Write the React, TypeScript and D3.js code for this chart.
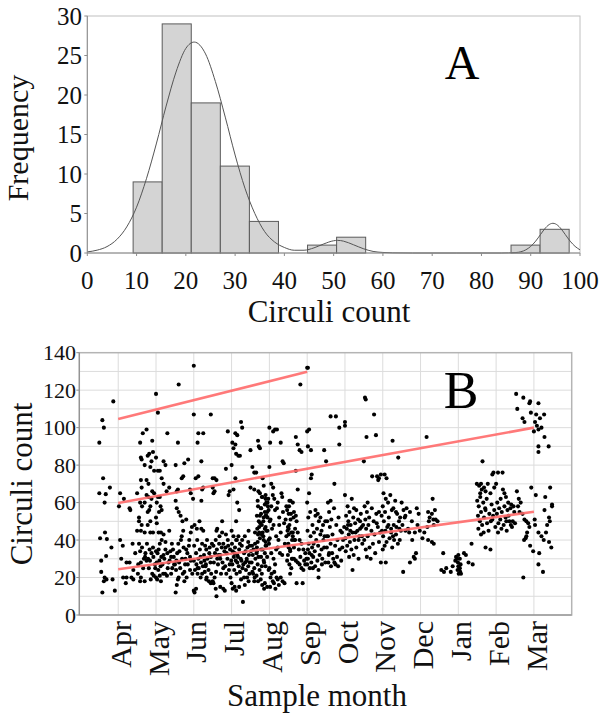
import React from "react";
import * as d3 from "d3";

// ---------- Panel A data ----------
const histStart = 9.3;
const binWidth = 5.9;
const binCounts = [9, 29, 19, 11, 4, 0, 1, 2, 0, 0, 0, 0, 0, 1, 3];
const xTicksA = [0, 10, 20, 30, 40, 50, 60, 70, 80, 90, 100];
const yTicksA = [0, 5, 10, 15, 20, 25, 30];
const curveX = [0, 2, 4, 6, 8, 10, 12, 14, 16, 18, 20, 21.7, 24, 26, 28, 30, 32, 34, 36, 38, 40, 42, 44, 46, 48, 50, 50.8, 52, 54, 56, 58, 60, 62, 66, 75, 84, 87, 88, 89, 90, 91, 92, 93, 94, 94.5, 95, 96, 97, 98, 99, 100];
const curveY = [0.14, 0.36, 0.81, 1.72, 3.3, 5.8, 9.4, 13.8, 18.6, 22.9, 25.9, 26.7, 25.2, 21.7, 17.2, 12.4, 8.2, 5.0, 2.7, 1.4, 0.7, 0.35, 0.35, 0.65, 1.15, 1.55, 1.6, 1.5, 1.05, 0.55, 0.2, 0.07, 0.02, 0, 0, 0, 0.06, 0.16, 0.4, 0.84, 1.5, 2.35, 3.18, 3.69, 3.76, 3.69, 3.18, 2.35, 1.5, 0.84, 0.4];

// ---------- Panel B data ----------
const months = ["Apr", "May", "Jun", "Jul", "Aug", "Sep", "Oct", "Nov", "Dec", "Jan", "Feb", "Mar"];
const yTicksB = [0, 20, 40, 60, 80, 100, 120, 140];
const trendX0 = [0, 0, 0];
const trendY0 = [104.6, 59.8, 24.4];
const trendX1 = [5, 11, 11];
const trendY1 = [129.8, 100, 55.1];

type P = [number, number];
const preApr: P[] = [[-0.5,92],[-0.42,104],[-0.38,100],[-0.13,114],[-0.4,73],[-0.22,68],[-0.5,65],[-0.33,64.5],[-0.36,60],[-0.48,41],[-0.35,44],[-0.3,40.5],[-0.18,36],[-0.45,29],[-0.32,31.5],[-0.45,23],[-0.36,20],[-0.31,19],[-0.38,18],[-0.42,12],[-0.15,19],[-0.09,13]];
const aprPts: P[] = [[0.05,65],[0.15,62],[0.02,58],[0.3,57],[0.32,56],[0.05,40],[0.12,37],[0.08,30],[0.22,28],[0.13,20],[0.22,20],[0.2,17],[0.35,20],[0.3,28],[0.4,24],[0.45,33],[0.38,38],[0.4,19],
[0.5,65],[0.55,52],[0.5,45],[0.6,84],[0.62,83],[0.58,92],[0.65,97],[0.75,99],[0.6,72],[0.62,68],[0.58,60],[0.63,58],[0.55,50],[0.62,48],[0.6,45],[0.7,44],[0.55,38],[0.63,36],[0.58,34],[0.68,30],[0.6,28],[0.53,27],[0.52,22],[0.6,20],[0.58,18],[0.66,25],[0.75,29],[0.71,31],[0.72,33],[0.8,63],[0.75,64],[0.85,58],[0.82,56],[0.7,60],[0.78,55],[0.88,62],[0.9,66],[0.85,50],[0.95,65],[0.92,44],[0.85,44],[0.78,48],[0.7,80],[0.78,85],[0.82,86],[0.85,79],[0.9,93],[0.92,87],[0.88,82],[0.8,70],[0.75,72],[0.95,77],[0.76,38],[0.88,33],[0.79,30],[0.93,31],[0.84,29],[0.97,27],[0.81,25],[0.9,22],[0.94,21],[0.86,19],[0.7,18],[0.83,35],[0.92,36],[0.98,25]];
const mayPts: P[] = [[1.0,118],[1.05,108],[1.02,60],[1.05,63],[1.1,63],[1.12,58],[1.08,55],[1.15,56],[1.0,52],[1.02,49],[1.07,44],[1.13,44],[1.2,43],[1.05,77],[1.1,77],[1.15,73],[1.2,70],[1.25,80],[1.3,97],[1.2,82],[1.0,84],[1.28,66],[1.35,68],[1.07,35],[1.0,34],[1.14,31],[1.04,33],[1.22,30],[1.09,29],[1.17,27],[1.25,35],[1.3,33],[1.02,28],[1.12,26],[1.06,24],[1.19,22],[1.0,20],[1.1,21],[1.24,22],[1.29,21],[1.31,25],[1.36,29],[1.4,31],[1.45,35],[1.2,32],[1.33,28],[1.38,34],[1.43,25],[1.48,27],[1.1,38],[1.15,40],[1.25,39],[1.35,45],[1.42,38],[1.47,31],[1.4,22],[1.03,19],[1.13,18],
[1.52,80],[1.55,66],[1.58,67],[1.6,123],[1.58,92],[1.52,61],[1.55,57],[1.6,55],[1.68,73],[1.72,74],[1.75,81],[1.65,53],[1.7,50],[1.8,51],[1.66,40],[1.59,38],[1.73,36],[1.56,33],[1.69,30],[1.61,28],[1.77,27],[1.64,25],[1.53,24],[1.71,22],[1.6,20],[1.58,19],[1.55,16],[1.52,12],[1.83,33],[1.78,30],[1.92,29],[1.84,27],[1.9,31],[1.8,35],[1.87,37],[1.9,24],[1.96,22],[1.81,20],[1.75,23],[1.88,40],[1.92,44],[1.95,47],[1.85,83],[1.9,67],[1.92,65],[1.98,62],[1.75,18],[1.72,45],[1.68,42],[1.62,34],[1.5,27],[1.54,29]];
const junPts: P[] = [[2.0,133],[2.0,107],[2.12,97],[2.25,97],[2.1,92],[2.2,82],[2.12,74],[2.05,73],[2.22,67],[2.25,68],[2.2,61],[2.15,50],[2.02,48],[2.08,46],[2.2,46],[2.25,45],
[2.09,40],[2.22,38],[2.01,37],[2.16,35],[2.06,33],[2.27,32],[2.12,30],[2.0,29],[2.19,28],[2.07,27],[2.24,26],[2.13,25],[2.03,24],[2.29,23],[2.1,22],[2.18,20],[2.0,13],[2.02,12],[2.06,14],[2.33,35],[2.41,33],[2.36,30],[2.44,28],[2.31,26],[2.39,24],[2.46,22],[2.34,20],[2.45,31],[2.28,29],[2.32,27],[2.18,31],[2.48,38],[2.42,36],[2.35,40],[2.3,37],[2.4,18],[2.45,17],[2.33,19],[2.1,25],[2.22,22],
[2.45,107],[2.5,73],[2.55,73],[2.6,72],[2.5,68],[2.55,66],[2.52,65],[2.85,78],[2.9,98],[2.92,64],[2.95,66],[2.75,50],[2.62,46],[2.6,45],
[2.58,40],[2.67,38],[2.52,37],[2.74,36],[2.61,35],[2.81,34],[2.56,33],[2.7,32],[2.89,30],[2.53,28],[2.64,27],[2.78,25],[2.59,23],[2.72,22],[2.55,20],[2.5,18],[2.52,17],[2.58,14],[2.6,10],[2.7,30],[2.78,38],[2.84,36],[2.91,37],[2.96,35],[2.87,33],[2.76,28],[2.83,26],[2.93,24],[2.86,22],[2.97,20],[2.95,27],[2.99,29],[2.7,15],[2.78,14],[2.82,13],[2.65,32],[2.68,42],[2.85,43],[2.9,40],[2.75,44],[2.62,30]];
const julPts: P[] = [[3.25,103],[3.28,100],[3.1,97],[3.15,96],[3.02,92],[3.1,91],[3.05,89],[3.12,86],[3.18,85],[3.22,85],[3.0,80],[3.1,73],[3.05,67],[3.15,60],[3.2,56],[3.12,50],[3.0,45],[3.05,42],
[3.14,40],[3.01,38],[3.27,37],[3.09,36],[3.2,35],[3.03,34],[3.33,33],[3.15,32],[3.06,31],[3.24,30],[3.11,29],[3.36,28],[3.02,27],[3.19,26],[3.29,25],[3.07,24],[3.22,23],[3.13,22],[3.33,20],[3.0,17],[3.08,15],[3.03,14],[3.12,13],[3.3,7],[3.42,36],[3.37,34],[3.46,32],[3.4,30],[3.48,28],[3.44,26],[3.38,24],[3.47,22],[3.41,20],[3.45,18],[3.35,16],[3.22,38],[3.28,40],[3.35,42],[3.45,45],[3.08,33],[3.17,31],[3.26,29],[3.31,27],[3.4,29],[3.12,40],[3.18,42],[3.48,37],[3.44,39],[3.25,19],[3.2,15],[3.15,28],
[3.7,93],[3.72,90],[3.75,89],[3.5,88],[3.55,79],[3.6,76],[3.65,76],[3.82,73],[3.85,69],[3.5,68],[3.6,67],[3.75,65],[3.8,63],[3.9,62],[3.95,60],[3.7,58],[3.78,57],[3.88,55],[3.92,53],[3.85,52],[3.72,50],[3.8,48],[3.9,47],[3.95,45],[3.82,44],[3.7,43],[3.75,41],[3.85,40],[3.9,39],
[3.62,38],[3.54,37],[3.67,36],[3.58,35],[3.51,34],[3.66,33],[3.56,32],[3.63,30],[3.53,28],[3.69,27],[3.6,25],[3.74,24],[3.57,22],[3.66,21],[3.61,20],[3.77,19],[3.7,18],[3.88,17],[3.81,16],[3.94,15],[3.86,14],[3.98,24],[3.9,26],[3.85,29],[3.78,31],[3.82,35],[3.88,33],[3.92,37],[3.98,40],[3.95,52],[3.98,56],[3.9,64],[3.96,58],[3.75,53],[3.68,46],[3.62,44],[3.55,23],[3.8,22],[3.6,18]];
const augPts: P[] = [[4.0,100],[4.02,92],[4.1,98],[4.15,99],[4.2,99],[4.3,92],[4.35,82],[4.38,81],[4.0,79],[4.05,70],[4.1,68],
[3.71,66],[4.09,64],[3.82,63],[4.34,63],[3.97,62],[3.69,61],[4.22,60],[3.88,59],[4.45,58],[3.78,57],[4.15,56],[3.94,55],[4.57,54],[3.67,53],[4.26,52],[4.03,51],[3.84,50],[4.39,49],[4.11,48],[3.73,47],[4.51,46],[3.92,45],[4.3,44],[3.8,43],[4.18,42],[4.01,41],[4.66,40],[3.69,39],[4.41,38],[3.9,37],[4.22,36],[3.78,35],[4.55,34],[4.05,33],[4.34,32],[3.71,31],[4.11,30],[4.47,29],[3.86,28],
[4.2,57],[3.9,53],[4.43,51],[3.76,49],[4.07,46],[4.62,44],[3.84,42],[4.24,40],[3.99,38],[4.51,36],[3.67,34],[4.28,33],[3.94,31],[4.6,30],[4.15,27],[3.8,26],[4.36,55],[4.05,58],[4.53,61],[3.88,46],[4.26,48],[3.73,44],[4.45,42],[4.01,50],[4.18,35],[4.64,52],[3.92,60],[4.32,65],[4.13,62],[3.78,54],[4.49,47],
[4.0,25],[4.13,23],[4.06,22],[4.19,20],[4.09,18],[4.25,16],[4.02,15],[4.16,14],[4.12,17],[4.22,19],[4.3,20],[4.35,18],[4.4,17],[4.03,20],
[4.48,45],[4.53,48],[4.56,51],[4.47,56],[4.52,58],[4.56,61],[4.5,38],[4.55,35],[4.49,32],[4.53,27],[4.58,25],[4.55,22],[4.6,30],[4.6,40],[4.58,44],[4.51,54],[4.51,43],
[4.82,123],[4.7,95],[4.75,91],[4.8,88],[4.85,87],[4.7,77],[4.75,67],[4.62,60],[4.65,55],[4.7,53],[4.72,50],[4.68,46],[4.75,44],[4.8,40],[4.85,38],[4.9,35],[4.95,33],[4.65,30],[4.7,29],[4.75,28],[4.8,27],[4.85,25],[4.9,24],[4.72,17],[4.88,17],[4.65,36],[4.78,35],[4.82,31],[4.92,29],[4.98,30],[4.95,27],[4.68,40],[4.62,42]];
const sepPts: P[] = [[5.0,132],[5.02,132],[5.05,99],[5.0,98],[5.02,90],[5.1,88],[5.12,75],[5.1,73],[5.05,65],[5.0,60],
[5.08,55],[5.22,53],[5.03,52],[5.31,50],[5.14,48],[5.26,46],[5.01,45],[5.18,44],[5.35,43],[5.09,42],[5.24,40],[5.04,38],[5.29,37],[5.13,36],[5.38,35],[5.2,34],[5.06,33],[5.33,32],[5.16,31],[5.02,30],[5.27,29],[5.11,28],[5.39,27],[5.21,26],[5.07,25],[5.3,24],[5.3,20],[5.43,40],[5.46,42],[5.38,45],[5.42,48],[5.48,50],[5.45,36],[5.4,30],[5.48,28],[5.22,56],[5.28,54],[5.35,52],[5.17,38],[5.12,32],[5.02,35],[5.15,25],[5.0,27],
[5.85,100],[5.85,91],[5.45,88],[5.5,82],[5.72,70],[5.62,61],[5.55,60],
[5.71,57],[5.58,55],[5.83,52],[5.64,51],[5.53,50],[5.77,48],[5.6,47],[5.88,45],[5.67,43],[5.55,42],[5.8,40],[5.62,38],[5.74,37],[5.52,36],[5.86,35],[5.66,33],[5.57,32],[5.79,31],[5.69,30],[5.9,29],[5.56,28],[5.75,27],[5.63,26],[5.62,106],[5.76,106],[5.93,36],[5.95,40],[5.92,44],[5.98,47],[5.52,42],[5.58,33],[5.82,26],[5.72,28]];
const octPts: P[] = [[6.0,103],[6.0,101],[6.0,64],[6.18,62],[6.07,58],[6.3,56],[6.12,55],[6.42,54],[6.03,53],[6.22,52],[6.35,51],[6.09,50],[6.27,49],[6.15,48],[6.44,47],[6.05,46],[6.33,45],[6.2,44],[6.1,43],[6.38,42],[6.01,41],[6.25,40],[6.13,39],[6.46,38],[6.06,37],[6.3,36],[6.17,35],[6.02,34],[6.23,32],[6.11,31],[6.36,30],[6.2,24],[6.48,48],[6.4,46],[6.14,45],[6.28,44],[6.45,42],[6.08,48],[6.36,40],[6.24,57],[6.4,50],
[6.53,116],[6.55,115],[6.77,107],[6.57,95],[6.82,96],[6.5,82],[6.72,74],[6.85,74],[6.9,73],[6.88,72],[6.95,75],
[6.6,60],[6.52,58],[6.71,57],[6.58,55],[6.83,54],[6.64,52],[6.54,51],[6.76,50],[6.62,48],[6.87,47],[6.56,46],[6.7,45],[6.93,44],[6.6,42],[6.51,40],[6.74,38],[6.65,36],[6.55,35],[6.8,33],[6.58,31],[6.68,30],[6.9,55],[6.97,53],[6.84,49],[6.98,45],[6.78,43],[6.9,39],[6.95,28]];
const novPts: P[] = [[7.26,93],[7.41,84],[7.05,75],[7.1,73],[7.02,65],[7.2,64],[7.08,62],[7.33,61],[7.14,60],[7.0,58],[7.24,56],[7.06,55],[7.38,54],[7.16,52],[7.03,50],[7.29,48],[7.12,47],[7.44,46],[7.07,45],[7.22,44],[7.35,43],[7.01,42],[7.18,41],[7.3,40],[7.1,39],[7.4,38],[7.05,37],[7.25,36],[7.0,35],[7.08,28],[7.35,55],[7.46,52],[7.43,50],[7.27,42],[7.48,45],[7.45,40],[7.15,48],[7.22,46],[7.28,57],[7.36,47],
[7.5,60],[7.63,57],[7.55,56],[7.72,55],[7.58,52],[7.77,50],[7.52,48],[7.67,46],[7.6,45],[7.7,44],[7.78,40],[7.54,23],[7.85,44],[7.88,33],[7.82,31],[7.85,30],[7.72,28],[7.6,53],[7.9,57],[7.95,54],[7.92,48],[7.98,45]];
const decPts: P[] = [[8.16,95],[8.32,62],[8.38,56],[8.2,55],[8.3,54],[8.24,52],[8.34,51],[8.22,50],[8.35,48],[8.18,47],[8.1,44],[8.05,41],[8.2,40],[8.3,39],[8.35,38],[8.4,51],[8.45,50]];
const janPts: P[] = [[8.6,33],[8.55,24],[8.62,23],[8.68,25],[8.92,29],[8.97,30],[8.94,31],[9.0,32],[9.04,30],[8.99,28],[9.06,27],[9.0,26],[9.04,25],[8.98,24],[9.05,23],[9.01,22],[9.07,22],[9.15,33],[9.2,32],[9.27,28],[9.35,38],[9.38,27],[8.85,26],[8.8,23]];
const febPts: P[] = [[9.64,82],[9.49,70],[9.55,69],[9.6,70],[9.68,68],[9.72,66],[9.78,70],[9.85,65],[9.93,76],[10.05,76],[10.17,76],[9.9,75],
[9.58,63],[9.75,62],[9.5,61],[9.66,60],[9.88,59],[9.54,58],[9.71,57],[9.95,56],[9.6,55],[9.82,54],[9.52,53],[9.68,52],[9.9,51],[9.57,50],[9.76,49],[9.63,48],[9.98,47],[9.53,46],[9.8,45],[9.67,44],[9.72,56],[9.86,50],[9.6,43],[9.72,36],[9.85,35],[9.92,53],
[10.12,62],[10.03,60],[10.22,58],[10.08,57],[10.3,56],[10.15,55],[10.02,54],[10.25,52],[10.11,51],[10.35,50],[10.06,49],[10.2,48],[10.42,47],[10.14,46],[10.28,45],[10.05,44],[10.18,67],[10.22,65],[10.26,63],[10.32,60],[10.4,59],[10.46,58],[10.38,57],[10.48,55],[10.33,53],[10.44,50],[10.5,49],[10.39,48],[10.27,50],[9.95,68],[10.0,70],[9.58,65],[9.62,67]];
const marPts: P[] = [[10.53,118],[10.72,116],[10.88,113],[10.9,114],[11.12,113],[10.56,110],[10.92,108],[10.7,105],[10.75,103],[11.06,107],[11.16,105],[11.27,107],[11.03,103],[11.08,101],[11.0,98],[11.12,99],[11.2,100],[11.28,95],[11.39,90],[11.12,90],[11.12,87],[10.93,68],[11.43,68],[11.05,64],[11.3,63],[11.28,56],[11.4,52],[11.48,59],[11.48,58],[11.02,51],[11.03,48],[10.74,40],[10.78,41],[10.9,37],[10.98,34],[11.12,44],[11.2,42],[11.26,40],[11.4,39],[11.46,36],[11.14,33],[11.12,27],[11.24,23],[10.72,20],[10.55,66],[10.6,62],[10.65,60],[10.58,58],[10.62,55],[10.7,54],[10.75,51],[10.8,50],[10.85,49],[10.88,47],[10.82,44],[10.8,42],[11.35,48],[11.42,50],[11.32,44]];

const allPoints: P[] = [...preApr, ...aprPts, ...mayPts, ...junPts, ...julPts, ...augPts, ...sepPts, ...octPts, ...novPts, ...decPts, ...janPts, ...febPts, ...marPts];

const FONT = "Liberation Serif, DejaVu Serif, serif";
const T: React.CSSProperties = { fontFamily: FONT };

export default function App() {
  // Panel A scales
  const xA = d3.scaleLinear().domain([0, 100]).range([87.3, 580]);
  const yA = d3.scaleLinear().domain([0, 30]).range([253, 16]);
  const curvePts = curveX.map((x, i) => [x, curveY[i]] as [number, number]);
  const curvePath = d3.line<[number, number]>().x(d => xA(d[0])).y(d => yA(d[1])).curve(d3.curveMonotoneX)(curvePts) || "";

  // Panel B scales
  const xB = d3.scaleLinear().domain([-1.03, 12]).range([79.3, 571.7]);
  const yB = d3.scaleLinear().domain([0, 140]).range([615, 352.7]);
  const hGrid = d3.range(10, 140, 10);

  return (
    <svg width={613} height={717} style={{ position: "absolute", left: 0, top: 0, background: "#fff", fontFamily: FONT }}>
      <rect x={0} y={0} width={613} height={717} fill="#fff" />
      {/* ---------- Panel A ---------- */}
      <rect x={xA(0)} y={yA(30)} width={xA(100) - xA(0)} height={yA(0) - yA(30)} fill="none" stroke="#c0c0c0" strokeWidth={1} />
      {binCounts.map((c, i) =>
        c > 0 ? (
          <rect key={i} x={xA(histStart + i * binWidth)} y={yA(c)} width={xA(histStart + (i + 1) * binWidth) - xA(histStart + i * binWidth)} height={yA(0) - yA(c)} fill="#d4d4d4" stroke="#5a5a5a" strokeWidth={1} />
        ) : null
      )}
      <path d={curvePath} fill="none" stroke="#555" strokeWidth={1} />
      <line x1={xA(0)} x2={xA(0)} y1={yA(0)} y2={yA(30)} stroke="#8c8c8c" strokeWidth={1} />
      <line x1={xA(0)} x2={xA(100)} y1={yA(0)} y2={yA(0)} stroke="#8c8c8c" strokeWidth={1} />
      {yTicksA.map(t => (
        <g key={t}>
          <line x1={xA(0) - 3} x2={xA(0)} y1={yA(t)} y2={yA(t)} stroke="#8c8c8c" />
          <text style={T} x={82} y={yA(t)} dy="0.35em" textAnchor="end" fontSize={25} fill="#111">{t}</text>
        </g>
      ))}
      {xTicksA.map(t => (
        <g key={t}>
          <line x1={xA(t)} x2={xA(t)} y1={yA(0)} y2={yA(0) + 3} stroke="#8c8c8c" />
          <text style={T} x={xA(t)} y={289} textAnchor="middle" fontSize={25} fill="#111">{t}</text>
        </g>
      ))}
      <text style={T} x={329} y={322} textAnchor="middle" fontSize={31} fill="#111">Circuli count</text>
      <text style={T} transform="translate(28,138) rotate(-90)" textAnchor="middle" fontSize={30} fill="#111">Frequency</text>
      <text style={T} x={462} y={79} textAnchor="middle" fontSize={48} fill="#000">A</text>

      {/* ---------- Panel B ---------- */}
      {hGrid.map(v => (
        <line key={"h" + v} x1={xB(-1.03)} x2={xB(12)} y1={yB(v)} y2={yB(v)} stroke="#dcdcdc" strokeWidth={1} />
      ))}
      {months.map((m, i) => (
        <line key={"v" + m} x1={xB(i)} x2={xB(i)} y1={yB(0)} y2={yB(140)} stroke="#dcdcdc" strokeWidth={1} />
      ))}
      <rect x={xB(-1.03)} y={yB(140)} width={xB(12) - xB(-1.03)} height={yB(0) - yB(140)} fill="none" stroke="#b4b4b4" strokeWidth={1.5} />
      <line x1={xB(-1.03)} x2={xB(-1.03)} y1={yB(0)} y2={yB(140)} stroke="#8c8c8c" strokeWidth={1} />
      <line x1={xB(-1.03)} x2={xB(12)} y1={yB(0)} y2={yB(0)} stroke="#8c8c8c" strokeWidth={1} />
      {yTicksB.map(t => (
        <g key={t}>
          <line x1={xB(-1.03) - 3} x2={xB(-1.03)} y1={yB(t)} y2={yB(t)} stroke="#8c8c8c" />
          <text style={T} x={76} y={yB(t)} dy="0.35em" textAnchor="end" fontSize={22} fill="#111">{t}</text>
        </g>
      ))}
      {allPoints.map((p, i) => (
        <circle key={i} cx={xB(p[0])} cy={yB(p[1])} r={2.05} fill="#000" />
      ))}
      {trendX0.map((x0, i) => (
        <line key={"t" + i} x1={xB(x0)} y1={yB(trendY0[i])} x2={xB(trendX1[i])} y2={yB(trendY1[i])} stroke="#ff6a6a" strokeOpacity={0.9} strokeWidth={2.6} />
      ))}
      {months.map((m, i) => (
        <text style={T} key={"m" + m} transform={`translate(${xB(i)},621) rotate(-90)`} dy="0.42em" textAnchor="end" fontSize={30} fill="#111">{m}</text>
      ))}
      <text style={T} x={317} y={706} textAnchor="middle" fontSize={31} fill="#111">Sample month</text>
      <text style={T} transform="translate(32,484) rotate(-90)" textAnchor="middle" fontSize={31} fill="#111">Circuli count</text>
      <text style={T} x={461} y={408} textAnchor="middle" fontSize={52} fill="#000">B</text>
    </svg>
  );
}
